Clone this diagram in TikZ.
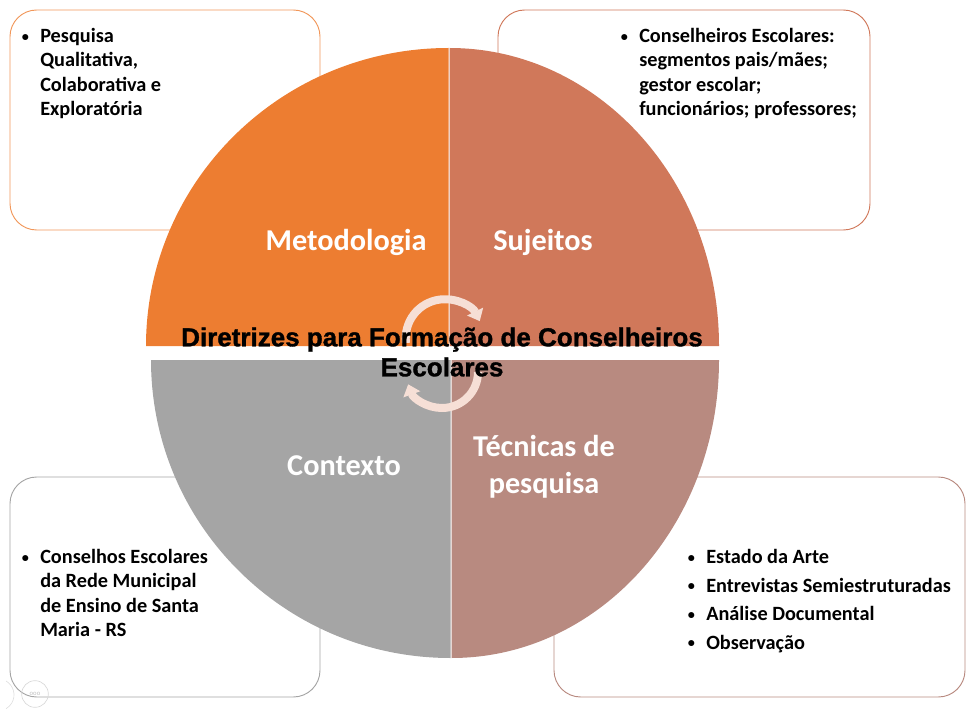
\documentclass[tikz,border=0pt]{standalone}
\usepackage{fontspec}
\usepackage{xcolor}
\usetikzlibrary{arrows.meta}
\setmainfont{Carlito}
\newfontfamily\titlefont[BoldFeatures={FakeBold=1.2}]{Liberation Sans}
\definecolor{orangeA}{HTML}{ED7D31}
\definecolor{brownA}{HTML}{D0785A}
\definecolor{greyA}{HTML}{A5A5A5}
\definecolor{roseA}{HTML}{B88A80}
\definecolor{ringA}{HTML}{F6DFD6}
\newcommand{\bul}{\llap{\raisebox{1pt}{\scalebox{0.7}{\textbullet}}\hspace{8.5pt}}}
\tikzstyle{every node}+=[inner sep=0pt]
\tikzstyle{listbox}=[draw,line width=0.7pt,rounded corners=20pt]
\tikzstyle{listtext}=[anchor=north west,align=left,font=\fontsize{15.2}{18.2}\selectfont\bfseries,text=black]
\tikzstyle{sectortext}=[align=center,text=white,font=\fontsize{22.7}{28}\selectfont\bfseries]
\tikzstyle{ringarrow}=[ringA,line width=6pt,-{Triangle[width=13pt,length=8pt]}]

\begin{document}
\begin{tikzpicture}[x=0.75pt,y=-0.75pt]
\useasboundingbox (0,0) rectangle (970,716);

\draw [listbox,draw=orangeA!80!white] (10,10) rectangle (320,230);
\draw [listbox,draw=brownA] (498,10) rectangle (870,230);
\draw [listbox,draw=greyA] (10,477) rectangle (320,697);
\draw [listbox,draw=roseA] (554,477) rectangle (965,697);

\fill [orangeA] (448.5,346) -- (146,346) arc [start angle=180,end angle=270,x radius=302.5,y radius=298] -- cycle;
\fill [brownA] (449.5,346) -- (449.5,48) arc [start angle=270,end angle=360,x radius=269.5,y radius=298] -- cycle;
\fill [greyA] (450.5,360) -- (151,360) arc [start angle=180,end angle=90,x radius=299.5,y radius=298] -- cycle;
\fill [roseA] (451.5,360) -- (451.5,658) arc [start angle=90,end angle=0,x radius=267.5,y radius=298] -- cycle;

\draw [ringarrow] (406,343) arc [start angle=173,end angle=334,radius=39];
\draw [ringarrow] (478,372) arc [start angle=0,end angle=160,radius=36];

\node [sectortext] (metodologia) at (346,242) {Metodologia};
\node [sectortext] (sujeitos) at (543,242) {Sujeitos};
\node [sectortext] (contexto) at (344,466) {Contexto};
\node [sectortext] (tecnicas) at (544,467) {Técnicas de\\pesquisa};

\node [align=center,font=\fontsize{19.5}{22.5}\selectfont\titlefont\bfseries] (titulo) at (442,352) {Diretrizes para Formação de Conselheiros\\Escolares};

\node [listtext] (listaA) at (40,28) {\bul Pesquisa\\Qualitativa,\\Colaborativa e\\Exploratória};
\node [listtext] (listaB) at (639,28) {\bul Conselheiros Escolares:\\segmentos pais/mães;\\gestor escolar;\\funcionários; professores;};
\node [listtext] (listaC) at (40,549) {\bul Conselhos Escolares\\da Rede Municipal\\de Ensino de Santa\\Maria - RS};
\node [listtext,font=\fontsize{15.2}{21.4}\selectfont\bfseries] (listaD) at (706,549) {\bul Estado da Arte\\\bul Entrevistas Semiestruturadas\\\bul Análise Documental\\\bul Observação};

\node [draw=black!15,circle,minimum size=20pt,line width=0.5pt,text=black!25,font=\fontsize{5}{6}\selectfont] (marca) at (35,694) {ooo};
\draw [black!12,line width=0.5pt] (6,681) arc [start angle=-60,end angle=60,radius=16];
\end{tikzpicture}
\end{document}
